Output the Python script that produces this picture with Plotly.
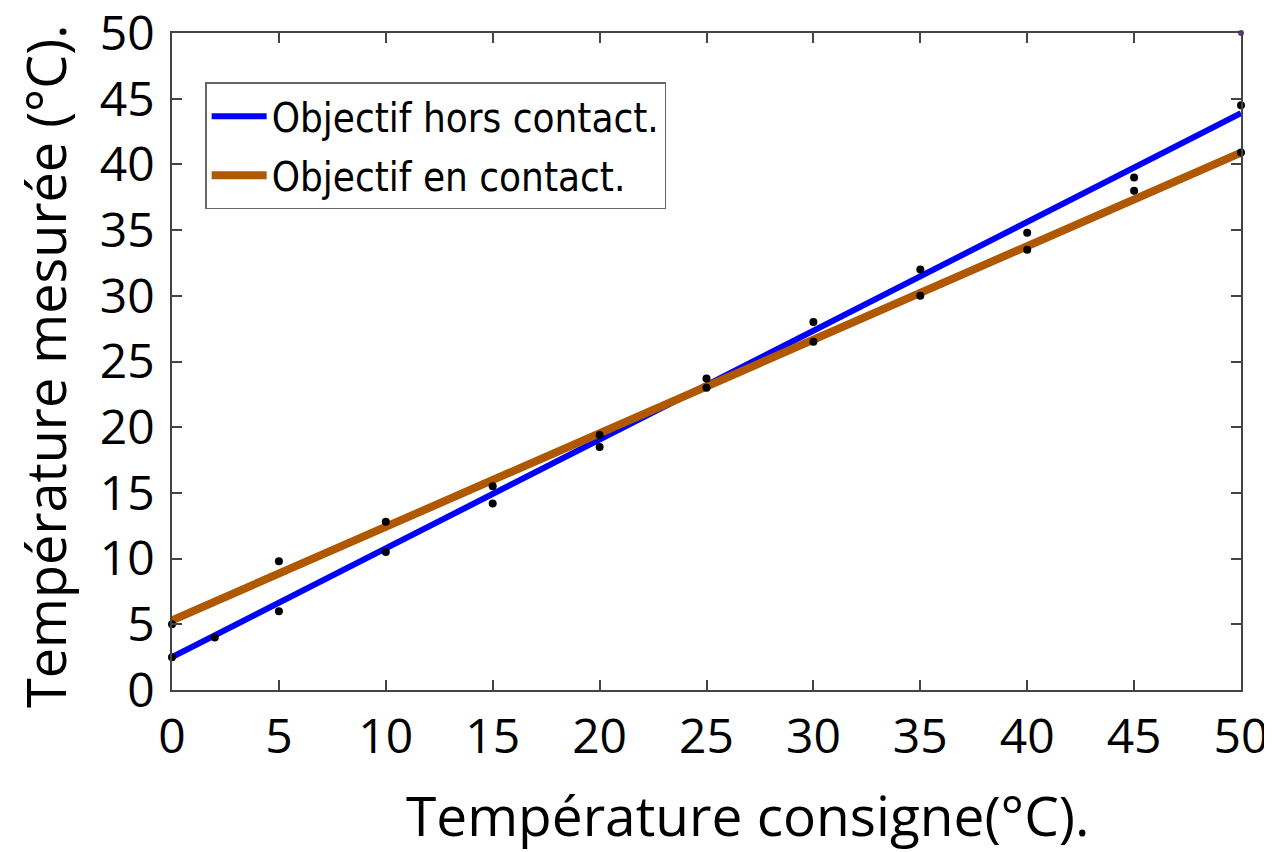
import plotly.graph_objects as go

# Measured points (black dots)
pts_x = [0, 0, 2, 5, 5, 10, 10, 15, 15, 20, 20, 25, 25, 30, 30, 35, 35, 40, 40, 45, 45, 50, 50]
pts_y = [5.0, 2.5, 4.0, 9.8, 6.0, 12.8, 10.5, 15.5, 14.2, 19.4, 18.5, 23.7, 23.0,
         28.0, 26.5, 32.0, 30.0, 34.8, 33.5, 39.0, 38.0, 44.5, 40.9]

# Fit lines
fit_x = [0, 50]
hors_contact = [2.5, 43.9]
en_contact = [5.3, 40.9]

extra_x = [50]
extra_y = [50]

tick_vals = [0, 5, 10, 15, 20, 25, 30, 35, 40, 45, 50]

x_title = "Température consigne(°C)."
y_title = "Température mesurée (°C)."

fig = go.Figure()
fig.add_trace(go.Scatter(x=fit_x, y=hors_contact, mode="lines",
                         line=dict(color="#0000FF", width=6),
                         name="Objectif hors contact.", legendgroup="a"))
fig.add_trace(go.Scatter(x=fit_x, y=en_contact, mode="lines",
                         line=dict(color="#B05800", width=8),
                         name="Objectif en contact.", legendgroup="b"))
fig.add_trace(go.Scatter(x=pts_x, y=pts_y, mode="markers",
                         marker=dict(color="black", size=8),
                         showlegend=False, cliponaxis=False))
fig.add_trace(go.Scatter(x=extra_x, y=extra_y, mode="markers",
                         marker=dict(color="#7030A0", size=6),
                         showlegend=False, cliponaxis=False))

axis_common = dict(
    range=[0, 50], tickvals=tick_vals, ticks="inside", ticklen=10,
    tickcolor="#444444", tickwidth=1.5, showline=True, linecolor="#444444",
    linewidth=1.5, mirror="ticks", showgrid=False, zeroline=False,
    automargin=False, ticklabeloverflow="allow",
    tickfont=dict(family="Open Sans", size=48, color="black"),
)

fig.update_layout(
    width=1264, height=844,
    margin=dict(l=164, r=31, t=25, b=162),
    paper_bgcolor="white", plot_bgcolor="white",
    xaxis=dict(**axis_common, ticklabelstandoff=4),
    yaxis=dict(**axis_common, ticklabelstandoff=6),
    legend=dict(x=0.031, y=0.925, xanchor="left", yanchor="top",
                bgcolor="white", bordercolor="#666666", borderwidth=1.5,
                font=dict(family="DejaVu Sans Condensed, Open Sans", size=40, color="black"),
                tracegroupgap=4, itemwidth=55),
    annotations=[
        dict(text=x_title, xref="paper", yref="paper", x=0.538, y=0,
             xanchor="center", yanchor="middle", yshift=-124, showarrow=False,
             font=dict(family="Open Sans", size=55, color="black")),
        dict(text=y_title, xref="paper", yref="paper", x=0, y=0.4916,
             xanchor="center", yanchor="middle", xshift=-127, textangle=-90,
             showarrow=False,
             font=dict(family="Open Sans", size=54, color="black")),
    ],
)

fig.write_html("out.html")
